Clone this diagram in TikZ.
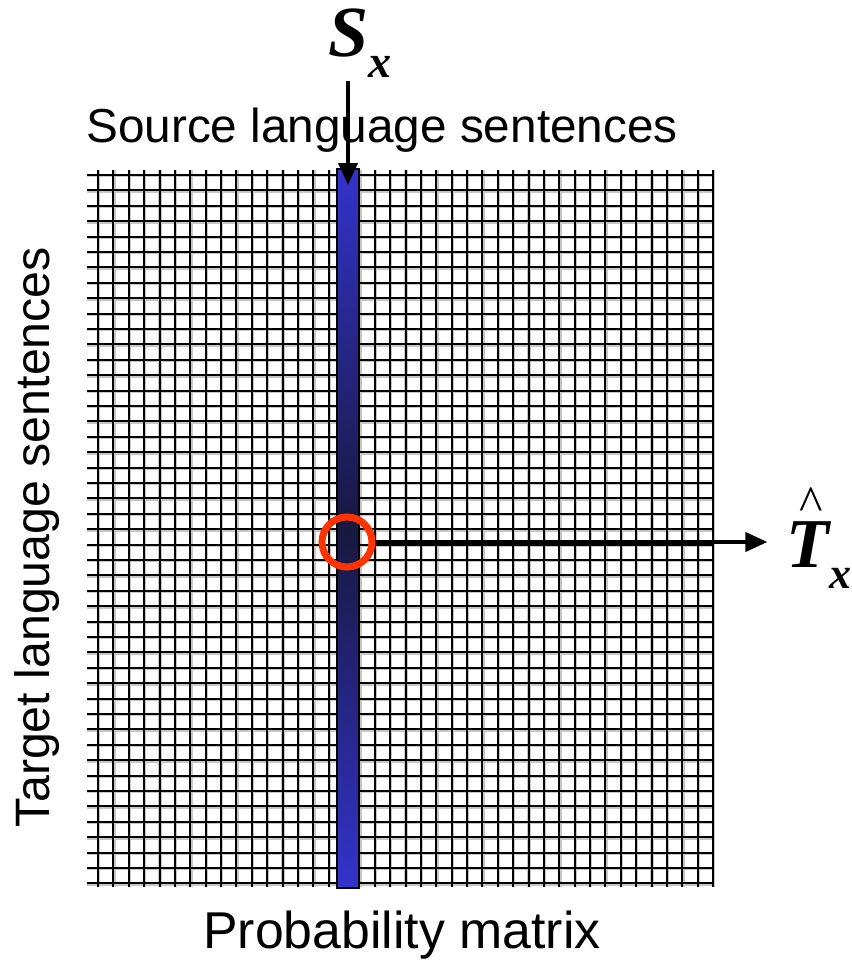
\documentclass[tikz,border=0pt]{standalone}
\usepackage{fontspec}
\setmainfont{Liberation Sans}
\newfontfamily\timesf{Liberation Serif}
\usetikzlibrary{arrows.meta}

\definecolor{barblue}{RGB}{51,51,204}
\definecolor{bardark}{RGB}{24,24,64}
\definecolor{hitred}{RGB}{255,51,0}

\tikzset{
  gridshadow/.style={line width=3.4pt, gray!45},
  gridline/.style={line width=2pt, black},
  arr/.style={line width=4pt, -{Triangle[length=22pt,width=19pt]}},
  label/.style={anchor=center, inner sep=0pt},
}

\begin{document}
\begin{tikzpicture}[x=1pt, y=-1pt]

  %% ════ 网格 ════
  \foreach \i in {0,...,46}
    \draw[gridshadow] (87,175+\i*15.4+0.6) -- (713,175+\i*15.4+0.6);
  \foreach \j in {0,...,40}
    \draw[gridshadow] (98+\j*15.375+0.6,170) -- (98+\j*15.375+0.6,887);
  \foreach \i in {0,...,46}
    \draw[gridline] (87,175+\i*15.4) -- (713,175+\i*15.4);
  \foreach \j in {0,...,40}
    \draw[gridline] (98+\j*15.375,170) -- (98+\j*15.375,887);

  %% ════ 选中的一列 ════
  \shade[top color=barblue, bottom color=barblue, middle color=bardark]
    (337,169) rectangle (359,888);
  \draw[line width=2pt] (337,169) rectangle (359,888);
  \coordinate (bartop) at (348,185);

  %% ════ 标签 ════
  \node[label] (src) at (382,130)
    {\fontsize{47.7}{50}\selectfont Source language sentences};
  \node[label] (prob) at (402,935)
    {\fontsize{51.8}{54}\selectfont Probability matrix};
  \node[label, rotate=90] (tgt) at (37,537)
    {\fontsize{48.3}{50}\selectfont Target language sentences};

  \node[label, inner ysep=3pt] (sx) at (360,43)
    {\timesf\bfseries\itshape\fontsize{72}{72}\selectfont S\raisebox{-0.3em}{\fontsize{46}{46}\selectfont x}};
  \node[label] (tx) at (819,538)
    {\timesf\bfseries\itshape\fontsize{70}{70}\selectfont
     \makebox[0pt][l]{\kern0.19em\raisebox{0.67em}{\mdseries\upshape\fontsize{50}{50}\selectfont\textasciicircum}}T\raisebox{-0.3em}{\fontsize{44}{44}\selectfont x}};

  %% ════ 最大值 + 箭头 ════
  \node[circle, draw=hitred, line width=7pt, minimum size=50pt, inner sep=0pt] (hit) at (347,542) {};

  \draw[arr] (sx.south -| bartop) -- (bartop);
  \draw[arr, shorten >=19pt] (hit.east) -- (hit.east -| tx.west);

  % 钉死画布
  \pgfresetboundingbox
  \path[use as bounding box] (0,0) rectangle (852,962);
\end{tikzpicture}
\end{document}
